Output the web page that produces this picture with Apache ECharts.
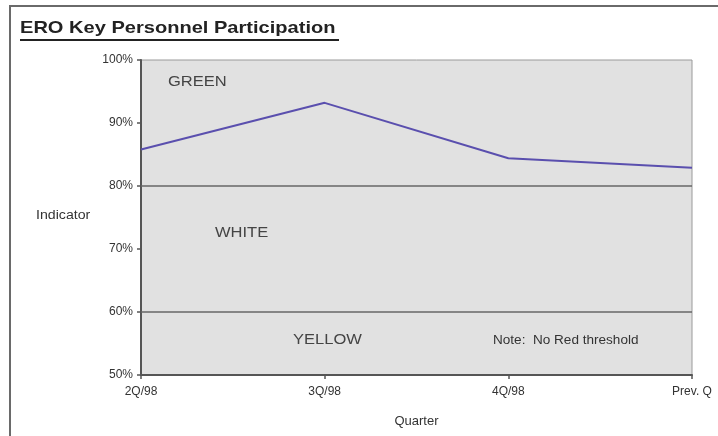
<!DOCTYPE html>
<html>
<head>
<meta charset="utf-8">
<script src="https://cdn.jsdelivr.net/npm/echarts@6/dist/echarts.min.js"></script>
<style>
  html, body { margin: 0; padding: 0; background: #fff; }
  #chart { width: 718px; height: 436px; }
</style>
</head>
<body>
<div id="chart"></div>
<script>
// data
const quarters = ['2Q/98', '3Q/98', '4Q/98', 'Prev. Q'];
const participation = [85.8, 93.2, 84.4, 82.9];
const thresholds = [80, 60];
const yTicks = [50, 60, 70, 80, 90, 100];
const zoneLabels = ['GREEN', 'WHITE', 'YELLOW'];

const font = '"Liberation Sans", Arial, sans-serif';
const myChart = echarts.init(document.getElementById('chart'));

// the original is a bit stretched sideways
const stretch = 1.18;

const option = {
  animation: false,
  grid: {
    left: 141,
    top: 60,
    right: 26,
    bottom: 61,
    show: true,
    backgroundColor: '#e1e1e1',
    borderColor: '#9a9a9a',
    borderWidth: 1
  },
  xAxis: {
    type: 'category',
    data: quarters,
    boundaryGap: false,
    axisLine: { lineStyle: { color: '#555', width: 2 } },
    axisTick: { show: true, alignWithLabel: true, length: 4, lineStyle: { color: '#555', width: 1.5 } },
    axisLabel: { color: '#333', fontFamily: font, fontSize: 12, margin: 11 },
    name: 'Quarter',
    nameLocation: 'middle',
    nameGap: 40,
    nameTextStyle: { color: '#333', fontFamily: font, fontSize: 13 }
  },
  yAxis: {
    type: 'value',
    min: yTicks[0],
    max: yTicks[yTicks.length - 1],
    interval: 10,
    axisLine: { show: true, lineStyle: { color: '#555', width: 2 } },
    axisTick: { show: true, length: 4, lineStyle: { color: '#555', width: 1.5 } },
    axisLabel: { color: '#333', fontFamily: font, fontSize: 12, margin: 8, formatter: '{value}%' },
    splitLine: { show: false }
  },
  graphic: [
    // outer frame
    {
      type: 'polyline',
      shape: { points: [[10, 436], [10, 6], [718, 6]] },
      style: { stroke: '#6a6a6a', lineWidth: 2, fill: null }
    },
    {
      type: 'text', left: 20, top: 20, scaleX: stretch,
      style: { text: 'ERO Key Personnel Participation', fontFamily: font, fontSize: 17, fontWeight: 'bold', fill: '#222' }
    },
    {
      type: 'line',
      shape: { x1: 20, y1: 40, x2: 339, y2: 40 },
      style: { stroke: '#222', lineWidth: 2 }
    },
    {
      type: 'text', left: 36, top: 210, scaleX: stretch,
      style: { text: 'Indicator', fontFamily: font, fontSize: 12, fill: '#333' }
    },
    {
      type: 'text', left: 168, top: 75, scaleX: stretch,
      style: { text: zoneLabels[0], fontFamily: font, fontSize: 14, fill: '#444' }
    },
    {
      type: 'text', left: 215, top: 226, scaleX: stretch,
      style: { text: zoneLabels[1], fontFamily: font, fontSize: 14, fill: '#444' }
    },
    {
      type: 'text', left: 293, top: 333, scaleX: stretch,
      style: { text: zoneLabels[2], fontFamily: font, fontSize: 14, fill: '#444' }
    },
    {
      type: 'text', left: 493, top: 335, scaleX: 1.13,
      style: { text: 'Note:  No Red threshold', fontFamily: font, fontSize: 12, fill: '#333' }
    }
  ],
  series: [
    {
      name: 'Participation',
      type: 'line',
      data: participation,
      symbol: 'none',
      color: '#5a4fae',
      lineStyle: { width: 2 },
      markLine: {
        silent: true,
        symbol: 'none',
        label: { show: false },
        lineStyle: { color: '#666', width: 1.5, type: 'solid' },
        data: thresholds.map(v => ({ yAxis: v }))
      }
    }
  ]
};
myChart.setOption(option);
</script>
</body>
</html>
